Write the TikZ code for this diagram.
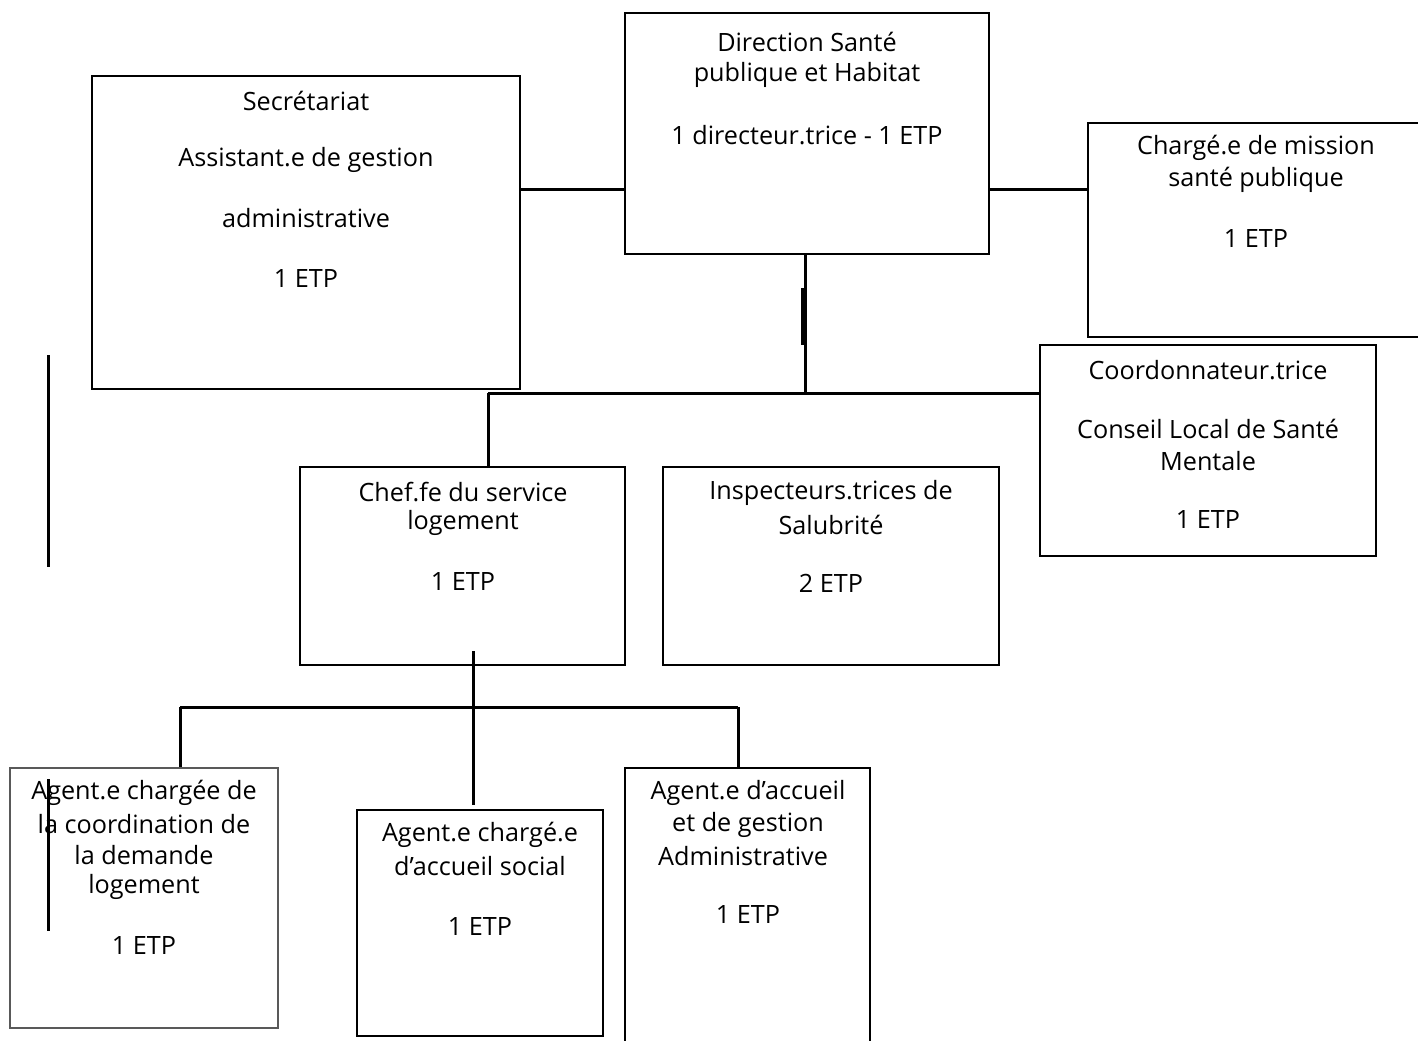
\documentclass[tikz,border=0pt]{standalone}
\usepackage{fontspec}
\setmainfont{Open Sans}
\usetikzlibrary{fit}
\tikzset{
  box/.style={draw=black, line width=1.2pt, inner sep=0pt, fill=none},
  boxgray/.style={draw=black!65, line width=0.9pt, inner sep=0pt},
  txt/.style={inner sep=0pt, font=\fontsize{12.6}{14}\selectfont, anchor=center},
  conn/.style={draw=black, line width=1.5pt},
}
\begin{document}
\begin{tikzpicture}[x=0.5pt,y=-0.5pt]
\useasboundingbox (0,0) rectangle (1418,1040);
% boxes
\node[box, fit={(92,76) (520,389)}] (sec) {};
\node[box, fit={(625,13) (989,254)}] (dir) {};
\node[box, fit={(1088,123) (1422,337)}] (mis) {};
\node[box, fit={(1040,345) (1376,556)}] (coo) {};
\node[box, fit={(300,467) (625,665)}] (chef) {};
\node[box, fit={(663,467) (999,665)}] (insp) {};
\node[boxgray, fit={(10,768) (278,1028)}] (ag1) {};
\node[box, fit={(357,810) (603,1036)}] (ag2) {};
\node[box, fit={(625,768) (870,1045)}] (ag3) {};
% texts
\node[txt] (sec1) at (306,101) {Secrétariat};
\node[txt] (sec2) at (306,160) {Assistant.e de gestion};
\node[txt] (sec3) at (306,218) {administrative};
\node[txt] (sec4) at (306,278) {1 ETP};
\node[txt] (dir1) at (807,42) {Direction Santé};
\node[txt] (dir2) at (807,75) {publique et Habitat};
\node[txt] (dir3) at (807,135) {1 directeur.trice - 1 ETP};
\node[txt] (mis1) at (1256,148) {Chargé.e de mission};
\node[txt] (mis2) at (1256,180) {santé publique};
\node[txt] (mis3) at (1256,238) {1 ETP};
\node[txt] (coo1) at (1208,370) {Coordonnateur.trice};
\node[txt] (coo2) at (1208,429) {Conseil Local de Santé};
\node[txt] (coo3) at (1208,461) {Mentale};
\node[txt] (coo4) at (1208,519) {1 ETP};
\node[txt] (chef1) at (463,492) {Chef.fe du service};
\node[txt] (chef2) at (463,523) {logement};
\node[txt] (chef3) at (463,581) {1 ETP};
\node[txt] (insp1) at (831,493) {Inspecteurs.trices de};
\node[txt] (insp2) at (831,525) {Salubrité};
\node[txt] (insp3) at (831,583) {2 ETP};
\node[txt] (ag11) at (144,793) {Agent.e chargée de};
\node[txt] (ag12) at (144,824) {la coordination de};
\node[txt] (ag13) at (144,855) {la demande};
\node[txt] (ag14) at (144,887) {logement};
\node[txt] (ag15) at (144,945) {1 ETP};
\node[txt] (ag21) at (480,835) {Agent.e chargé.e};
\node[txt] (ag22) at (480,866) {d’accueil social};
\node[txt] (ag23) at (480,926) {1 ETP};
\node[txt] (ag31) at (748,793) {Agent.e d’accueil};
\node[txt] (ag32) at (748,825) {et de gestion};
\node[txt] (ag33) at (743,856) {Administrative};
\node[txt] (ag34) at (748,914) {1 ETP};
% junction coordinates
\coordinate (j1) at (805,393);
\coordinate (j2) at (488,393);
\coordinate (j3) at (473,651);
\coordinate (j5) at (180,707);
\coordinate (j6) at (738,707);
\coordinate (j7) at (473,805);
\coordinate (t1) at (803,288);
\coordinate (t2) at (803,345);
\coordinate (s1) at (48,355);
\coordinate (s2) at (48,567);
\coordinate (s3) at (48,779);
\coordinate (s4) at (48,931);
% connectors
\draw[conn] (sec.east |- 0,189) -- (dir.west |- 0,189);
\draw[conn] (dir.east |- 0,189) -- (mis.west |- 0,189);
\draw[conn] (dir.south -| j1) -- (j1);
\draw[line width=2.2pt] (t1) -- (t2);
\draw[conn] (j2) -- (coo.west |- j1);
\draw[conn] (j2) -- (chef.north -| j2);
\draw[conn] (j3) -- (j7);
\draw[conn] (j5) -- (j6);
\draw[conn] (j5) -- (ag1.north -| j5);
\draw[conn] (j6) -- (ag3.north -| j6);
\draw[conn] (s1) -- (s2);
\draw[conn] (s3) -- (s4);
\end{tikzpicture}
\end{document}
